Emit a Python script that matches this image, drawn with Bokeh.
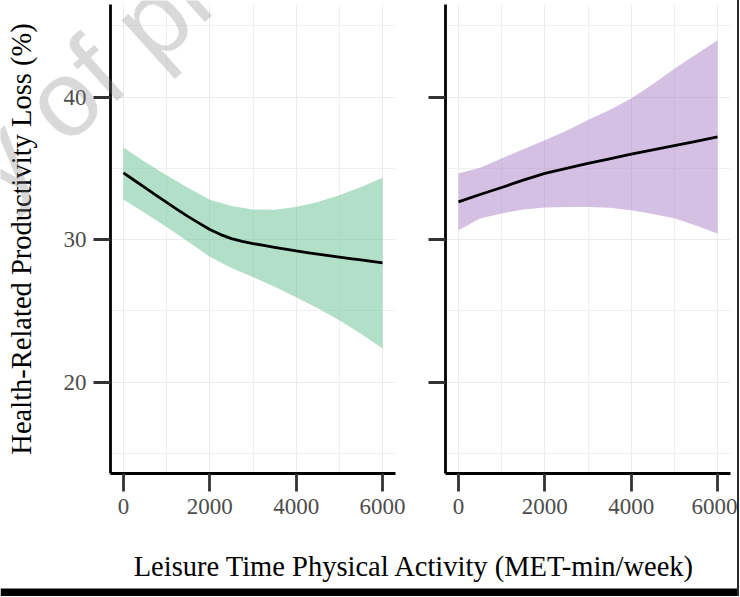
from bokeh.plotting import figure
from bokeh.layouts import row, column
from bokeh.models import Range1d, FixedTicker, Label, ColumnDataSource, BoxAnnotation
from bokeh.embed import file_html
from bokeh.resources import INLINE

# ---------------- data ----------------
met = [0, 500, 1000, 1500, 2000, 2500, 3000, 3500, 4000, 4500, 5000, 5500, 6000]
met_fine = [0, 250, 500, 750, 1000, 1250, 1500, 1750, 2000, 2250, 2500, 2750, 3000,
            3250, 3500, 3750, 4000, 4250, 4500, 4750, 5000, 5250, 5500, 5750, 6000]

green_fit = [34.69, 34.17, 33.65, 33.13, 32.62, 32.11, 31.62, 31.16, 30.72, 30.36, 30.08, 29.88, 29.73,
             29.60, 29.47, 29.34, 29.21, 29.10, 28.99, 28.88, 28.78, 28.68, 28.58, 28.48, 28.37]
green_hi = [36.47, 35.45, 34.53, 33.62, 32.80, 32.36, 32.12, 32.10, 32.30, 32.65, 33.12, 33.70, 34.34]
green_lo = [32.82, 31.87, 30.90, 29.85, 28.80, 28.02, 27.38, 26.70, 25.97, 25.19, 24.35, 23.40, 22.36]

purple_fit = [32.65, 33.17, 33.66, 34.18, 34.65, 35.00, 35.35, 35.67, 36.00, 36.30, 36.60, 36.90, 37.21]
purple_hi = [34.65, 35.05, 35.70, 36.35, 36.98, 37.65, 38.40, 39.10, 39.90, 40.90, 42.00, 43.00, 44.00]
purple_lo = [30.67, 31.49, 31.84, 32.12, 32.26, 32.30, 32.30, 32.25, 32.07, 31.80, 31.50, 31.00, 30.43]

x_ticks = [0, 2000, 4000, 6000]
x_minor = [1000, 3000, 5000]
y_ticks = [20, 30, 40]
y_minor = [15, 25, 35, 45]

y_title = "Health-Related Productivity Loss (%)"
x_title = "Leisure Time Physical Activity  (MET-min/week)"
watermark = "Copy of proof"

SERIF = "Liberation Serif"
y_range = Range1d(13.6, 46.5)


def panel(width, left_border, right_border, fit_x, fit, lo, hi, fill, show_labels):
    p = figure(width=width, height=540, output_backend="svg", toolbar_location=None,
               x_range=Range1d(-300, 6300), y_range=y_range,
               min_border_left=left_border, min_border_right=right_border,
               min_border_top=4, min_border_bottom=67)
    p.outline_line_color = None
    p.background_fill_color = "white"
    p.border_fill_color = "white"

    band = ColumnDataSource(dict(x=met, lo=lo, hi=hi))
    curve = ColumnDataSource(dict(x=fit_x, fit=fit))
    p.varea(x="x", y1="lo", y2="hi", source=band, fill_color=fill, fill_alpha=0.5)
    p.line(x="x", y="fit", source=curve, line_color="black", line_width=2.8,
           line_join="round")

    p.xaxis.ticker = FixedTicker(ticks=x_ticks, minor_ticks=x_minor)
    p.yaxis.ticker = FixedTicker(ticks=y_ticks, minor_ticks=y_minor)
    for ax in (p.xaxis[0], p.yaxis[0]):
        ax.axis_label = None
        ax.axis_line_color = "black"
        ax.axis_line_width = 2.8
        ax.major_tick_line_color = "#333333"
        ax.major_tick_line_width = 2.8
        ax.major_tick_in = 0
        ax.minor_tick_line_color = None
        ax.major_label_text_font = SERIF
        ax.major_label_text_font_size = "23px"
        ax.major_label_text_color = "#4d4d4d"
        ax.major_label_standoff = 7
    p.xaxis.major_tick_out = 18
    p.yaxis.major_tick_out = 17

    if show_labels:
        p.yaxis.axis_label = y_title
        p.yaxis.axis_label_text_font = SERIF
        p.yaxis.axis_label_text_font_size = "28.5px"
        p.yaxis.axis_label_text_font_style = "normal"
        p.yaxis.axis_label_text_color = "black"
        p.yaxis.axis_label_standoff = 24
    else:
        p.yaxis.major_label_overrides = {t: "" for t in y_ticks}
        p.yaxis.major_label_standoff = 0

    for g in (p.xgrid[0], p.ygrid[0]):
        g.grid_line_color = "#ebebeb"
        g.grid_line_width = 1
        g.minor_grid_line_color = "#f0f0f0"
        g.minor_grid_line_width = 1
    p.xgrid.ticker = FixedTicker(ticks=x_ticks, minor_ticks=x_minor)
    p.ygrid.ticker = FixedTicker(ticks=y_ticks, minor_ticks=y_minor)
    return p


p1 = panel(420, 110, 25, met_fine, green_fit, green_lo, green_hi, "#63bf91", True)
p2 = panel(317, 25, 7, met, purple_fit, purple_lo, purple_hi, "#a981c7", False)

# shared x-axis title, with the dark strip at the bottom edge of the reference
pt = figure(width=737, height=56, output_backend="svg", toolbar_location=None,
            x_range=Range1d(0, 1), y_range=Range1d(0, 1),
            x_axis_location=None, y_axis_location=None,
            min_border_left=0, min_border_right=0, min_border_top=0, min_border_bottom=0)
pt.outline_line_color = None
pt.xgrid.visible = False
pt.ygrid.visible = False
pt.add_layout(BoxAnnotation(bottom=0, top=8, bottom_units="screen", top_units="screen",
                            left=0, right=737, left_units="screen", right_units="screen",
                            fill_color="black", fill_alpha=1, line_color=None))
pt.add_layout(Label(x=417.5, y=29.6, x_units="screen", y_units="screen", text=x_title,
                    text_font=SERIF, text_font_size="28.5px", text_color="black",
                    text_align="center", text_baseline="alphabetic"))

# faint diagonal watermark over the top-left corner (transparent overlay figure)
pw = figure(width=240, height=220, output_backend="svg", toolbar_location=None,
            x_range=Range1d(0, 1), y_range=Range1d(0, 1),
            x_axis_location=None, y_axis_location=None,
            min_border_left=0, min_border_right=0, min_border_top=0, min_border_bottom=0,
            background_fill_color=None, border_fill_color=None,
            styles={"position": "absolute", "left": "0px", "top": "0px", "z-index": "10",
                    "pointer-events": "none"})
pw.outline_line_color = None
pw.xgrid.visible = False
pw.ygrid.visible = False
pw.add_layout(Label(x=-170, y=-88, x_units="screen", y_units="screen", text=watermark,
                    angle=0.733, text_font="Liberation Sans", text_font_size="108px",
                    text_color="#808080", text_alpha=0.3,
                    text_align="left", text_baseline="alphabetic"))

layout = column(row(p1, p2), pt, pw, styles={"border-right": "2px solid #2b2b2b"})

open("out.html", "w").write(file_html(layout, INLINE))
